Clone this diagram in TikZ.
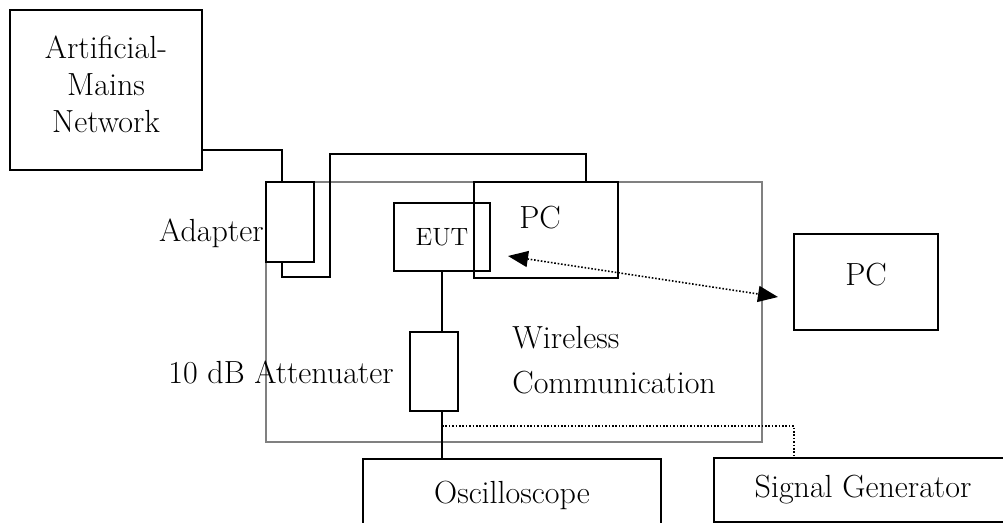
\documentclass[tikz,border=0pt]{standalone}
\usepackage{tikz}
\usetikzlibrary{arrows.meta, positioning}
\tikzset{
  box/.style={rectangle, draw, line width=0.7pt, inner sep=0pt,
              align=center, font=\fontsize{16}{18.5}\selectfont},
  area/.style={rectangle, draw=black!50, line width=0.6pt, inner sep=0pt},
  lbl/.style={inner sep=0pt, font=\fontsize{16}{18.5}\selectfont},
  wire/.style={line width=0.7pt},
  sig/.style={line width=0.8pt, dash pattern=on 0.8pt off 0.9pt},
  link/.style={{Triangle[length=10pt,width=8pt]}-{Triangle[length=10pt,width=8pt]},
               line width=0.8pt, dash pattern=on 0.8pt off 0.9pt},
}
\begin{document}
\begin{tikzpicture}[x=0.5pt, y=-0.5pt]
  \clip (0,0) rectangle (1003,523);
  % shielded test area
  \node[area, minimum width=248pt, minimum height=130pt] (room) at (514,312) {};
  % units
  \node[box, minimum width=96pt, minimum height=80pt] (amn) at (106,90) {};
  \node[box, minimum width=24pt, minimum height=40pt] (adapter) at (290,222) {};
  \node[box, minimum width=48pt, minimum height=34pt, font=\fontsize{12.5}{14}\selectfont] (eut) at (442,237) {EUT};
  \node[box, minimum width=72pt, minimum height=48pt] (pcin) at (546,230) {};
  \node[box, minimum width=72pt, minimum height=48pt] (pcout) at (866,282) {};
  \node[box, minimum width=24pt, minimum height=39.5pt] (att) at (434,371.5) {};
  \node[box, minimum width=149pt, minimum height=36pt] (osc) at (512,495) {Oscilloscope};
  \node[box, minimum width=149pt, minimum height=32pt] (sg) at (863,490) {Signal Generator};
  % labels
  \node[lbl, align=center] (amntxt) at (106,84) {Artificial-\\Mains\\Network};
  \node[lbl, anchor=east] (adlbl) at (264,233) {Adapter};
  \node[lbl, anchor=east] (attlbl) at (394,372) {10 dB Attenuater};
  \node[lbl] (pcintxt) at (540,218) {PC};
  \node[lbl] (pcouttxt) at (866,275) {PC};
  \node[lbl, anchor=west, align=left, font=\fontsize{16}{22.5}\selectfont] (wcl) at (512,360) {Wireless\\Communication};
  % mains wiring
  \draw[wire] (amn.east |- 0,150) -| ([xshift=-4pt]adapter.north);
  \coordinate (bendlo) at (330,277);
  \coordinate (bendhi) at (330,154);
  \draw[wire] ([xshift=-4pt]adapter.south) |- (bendlo) -- (bendhi) -| ([xshift=20pt]pcin.north);
  % signal path
  \draw[wire] (eut.south) -- (eut.south |- att.north);
  \draw[wire] (eut.south |- att.south) -- (eut.south |- osc.north);
  \coordinate (tap) at (442,426);
  \draw[sig] (tap) -| ([xshift=-34.5pt]sg.north);
  % radio link
  \coordinate (lnka) at (508,256);
  \coordinate (lnkb) at (778,297);
  \draw[link] (lnka) -- (lnkb);
\end{tikzpicture}
\end{document}
